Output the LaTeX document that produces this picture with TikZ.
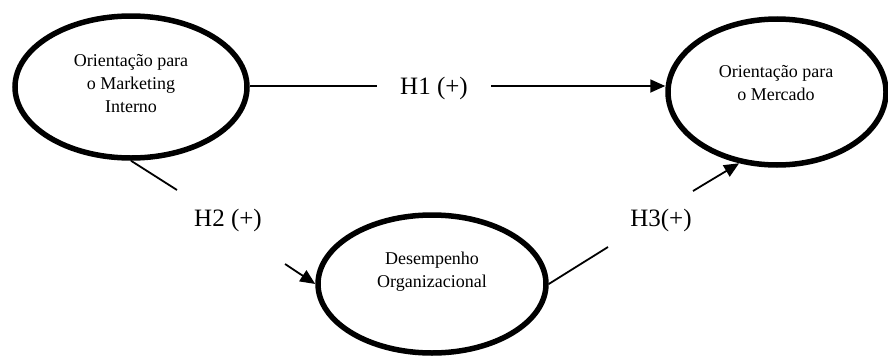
\documentclass[tikz,border=0pt]{standalone}
\usepackage{fontspec}
\setmainfont{Liberation Serif}
\usetikzlibrary{shapes.geometric,arrows.meta}
\begin{document}
\begin{tikzpicture}[x=1pt,y=-1pt,
  oval/.style={ellipse,draw,line width=5.5pt,inner sep=0pt},
  etext/.style={align=center,font=\fontsize{18}{23}\selectfont,inner sep=0pt},
  hlabel/.style={font=\fontsize{25}{28}\selectfont,inner sep=0pt},
  conn/.style={line width=1.8pt},
  arr/.style={conn,-{Triangle[length=15pt,width=13pt]}}]
\useasboundingbox (0,0) rectangle (888,356);
% ellipses
\node[oval,minimum width=232pt,minimum height=142pt] (L) at (131,87) {};
\node[oval,minimum width=218pt,minimum height=146pt] (R) at (777,92) {};
\node[oval,minimum width=228pt,minimum height=138pt] (B) at (432,284) {};
% texts
\node[etext] (Lt) at (131,84) {Orientação para\\o Marketing\\Interno};
\node[etext] (Rt) at (776,83) {Orientação para\\o Mercado};
\node[etext] (Bt) at (432,272) {Desempenho\\Organizacional};
% labels
\node[hlabel] (h1) at (434,88) {H1 (+)};
\node[hlabel] (h2) at (228,220) {H2 (+)};
\node[hlabel] (h3) at (661,220) {H3(+)};
% gap coordinates
\coordinate (h1a) at (377,86);
\coordinate (h1b) at (491,86);
\coordinate (h2a) at (177,190);
\coordinate (h2b) at (285,264);
\coordinate (h3a) at (608,247);
\coordinate (h3b) at (693,191);
% connectors
\draw[conn] (L.east |- h1a) -- (h1a);
\draw[arr] (h1b) -- (R.west |- h1b);
\draw[conn] (L.south) -- (h2a);
\draw[arr] (h2b) -- (B.west);
\draw[conn] (B.east) -- (h3a);
\draw[arr] (h3b) -- (R.242);
\end{tikzpicture}
\end{document}
